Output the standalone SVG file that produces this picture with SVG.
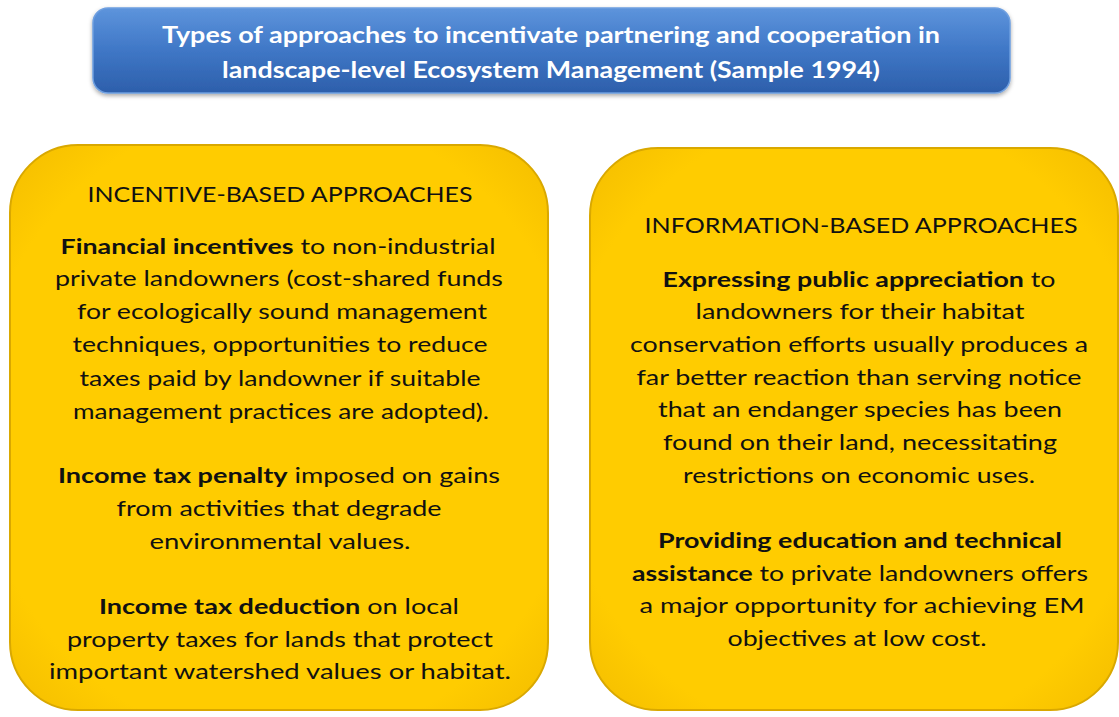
<svg xmlns="http://www.w3.org/2000/svg" width="1119" height="717" viewBox="0 0 1119 717">
<style>
.t{font-family:Lato,"Liberation Sans",sans-serif;font-size:21.5px;fill:#111;text-anchor:middle}
.h{font-family:Lato,"Liberation Sans",sans-serif;font-size:22px;fill:#111;text-anchor:middle}
.b{font-weight:bold}
.ti{font-family:Lato,"Liberation Sans",sans-serif;font-size:23.5px;font-weight:bold;fill:#fff;text-anchor:middle}
.box{fill:url(#yg);stroke:#d9a800;stroke-width:2}
</style>
<defs>
<linearGradient id="bg" x1="0" y1="0" x2="0" y2="1">
<stop offset="0" stop-color="#5d94dc"/>
<stop offset="0.5" stop-color="#3f77c6"/>
<stop offset="1" stop-color="#2d5fab"/>
</linearGradient>
<radialGradient id="yg" cx="0.5" cy="0.5" r="0.75">
<stop offset="0.75" stop-color="#ffcc00"/>
<stop offset="1" stop-color="#f0b800"/>
</radialGradient>
<filter id="sh" x="-5%" y="-20%" width="110%" height="150%">
<feDropShadow dx="0" dy="2" stdDeviation="2" flood-color="#000" flood-opacity="0.35"/>
</filter>
</defs>
<g id="title">
<rect x="93" y="8" width="917" height="85" rx="15" fill="url(#bg)" stroke="#6e9fe0" stroke-width="1.5" filter="url(#sh)"/>
<text class="ti" x="551" y="43" textLength="778" lengthAdjust="spacingAndGlyphs">Types of approaches to incentivate partnering and cooperation in</text>
<text class="ti" x="551" y="78" textLength="658" lengthAdjust="spacingAndGlyphs">landscape-level Ecosystem Management (Sample 1994)</text>
</g>
<g id="incentive">
<rect class="box" x="10" y="145" width="538" height="565" rx="68"/>
<text class="h" x="280" y="202" textLength="385" lengthAdjust="spacingAndGlyphs">INCENTIVE-BASED APPROACHES</text>
<text class="t" x="278" y="254" textLength="435" lengthAdjust="spacingAndGlyphs"><tspan class="b">Financial incentives</tspan> to non-industrial</text>
<text class="t" x="279" y="286" textLength="448" lengthAdjust="spacingAndGlyphs">private landowners (cost-shared funds</text>
<text class="t" x="282" y="319" textLength="410" lengthAdjust="spacingAndGlyphs">for ecologically sound management</text>
<text class="t" x="280" y="352" textLength="415" lengthAdjust="spacingAndGlyphs">techniques, opportunities to reduce</text>
<text class="t" x="280" y="386" textLength="401" lengthAdjust="spacingAndGlyphs">taxes paid by landowner if suitable</text>
<text class="t" x="281" y="419" textLength="416" lengthAdjust="spacingAndGlyphs">management practices are adopted).</text>
<text class="t" x="279" y="483" textLength="442" lengthAdjust="spacingAndGlyphs"><tspan class="b">Income tax penalty</tspan> imposed on gains</text>
<text class="t" x="279" y="516" textLength="325" lengthAdjust="spacingAndGlyphs">from activities that degrade</text>
<text class="t" x="280" y="549" textLength="261" lengthAdjust="spacingAndGlyphs">environmental values.</text>
<text class="t" x="279" y="614" textLength="360" lengthAdjust="spacingAndGlyphs"><tspan class="b">Income tax deduction</tspan> on local</text>
<text class="t" x="280" y="647" textLength="426" lengthAdjust="spacingAndGlyphs">property taxes for lands that protect</text>
<text class="t" x="280" y="679" textLength="462" lengthAdjust="spacingAndGlyphs">important watershed values or habitat.</text>
</g>
<g id="information">
<rect class="box" x="590" y="148" width="528" height="562" rx="68"/>
<text class="h" x="861" y="233" textLength="433" lengthAdjust="spacingAndGlyphs">INFORMATION-BASED APPROACHES</text>
<text class="t" x="859" y="287" textLength="393" lengthAdjust="spacingAndGlyphs"><tspan class="b">Expressing public appreciation</tspan> to</text>
<text class="t" x="860" y="319" textLength="329" lengthAdjust="spacingAndGlyphs">landowners for their habitat</text>
<text class="t" x="859" y="352" textLength="458" lengthAdjust="spacingAndGlyphs">conservation efforts usually produces a</text>
<text class="t" x="859" y="385" textLength="445" lengthAdjust="spacingAndGlyphs">far better reaction than serving notice</text>
<text class="t" x="860" y="417" textLength="404" lengthAdjust="spacingAndGlyphs">that an endanger species has been</text>
<text class="t" x="860" y="450" textLength="394" lengthAdjust="spacingAndGlyphs">found on their land, necessitating</text>
<text class="t" x="859" y="483" textLength="352" lengthAdjust="spacingAndGlyphs">restrictions on economic uses.</text>
<text class="t" x="860" y="548" textLength="404" lengthAdjust="spacingAndGlyphs"><tspan class="b">Providing education and technical</tspan></text>
<text class="t" x="860" y="581" textLength="456" lengthAdjust="spacingAndGlyphs"><tspan class="b">assistance</tspan> to private landowners offers</text>
<text class="t" x="862" y="613" textLength="445" lengthAdjust="spacingAndGlyphs">a major opportunity for achieving EM</text>
<text class="t" x="857" y="646" textLength="259" lengthAdjust="spacingAndGlyphs">objectives at low cost.</text>
</g>
<g id="connectors"></g>
</svg>
